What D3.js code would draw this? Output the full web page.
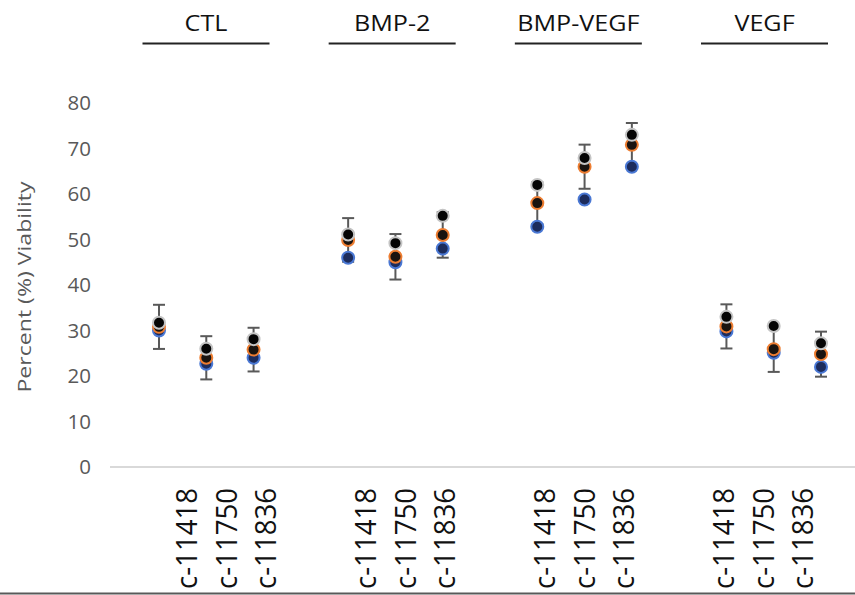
<!DOCTYPE html>
<html>
<head>
<meta charset="utf-8">
<script src="https://cdn.jsdelivr.net/npm/d3@7"></script>
<style>
  html, body { margin: 0; padding: 0; background: #fff; }
  svg { display: block; font-family: "Open Sans", "Noto Sans", sans-serif; }
</style>
</head>
<body>
<div id="chart"></div>
<script>
// treatment groups and cell samples
const groups = ["CTL", "BMP-2", "BMP-VEGF", "VEGF"];
const samples = ["c-11418", "c-11750", "c-11836"];

// values per group x sample (group-major order)
const blueVals   = [30.0, 22.7, 24.0, 46.0, 45.0, 48.0, 52.8, 58.8, 66.0, 29.8, 25.1, 22.0];
const orangeVals = [30.8, 24.0, 25.8, 49.9, 46.2, 51.0, 58.0, 66.0, 70.8, 30.9, 25.9, 24.8];
const blackVals  = [31.7, 26.0, 28.1, 51.1, 49.2, 55.2, 62.0, 67.9, 73.0, 33.0, 31.0, 27.2];
// error bar half-width (drawn around the orange series)
const errVals    = [4.85, 4.75, 4.8, 4.8, 5.0, 5.0, 4.6, 4.85, 4.8, 4.85, 5.0, 4.95];

const yTicks = [0, 10, 20, 30, 40, 50, 60, 70, 80];

const width = 855, height = 595;

const svg = d3.select("#chart")
  .append("svg")
  .attr("width", width)
  .attr("height", height);

// scales
const y = d3.scaleLinear().domain([0, 80]).range([467, 103]);
// each group takes 4 slots (3 samples + a gap)
const xSlot = d3.scaleLinear().domain([0, 14]).range([159, 821]);
const xHeader = d3.scalePoint().domain(groups).range([206, 764.5]);
const xLabelGroup = d3.scalePoint().domain(groups).range([226, 763]);
const xLabelSample = d3.scalePoint().domain(samples).range([-39.5, 39.5]);

// flat rows
const rows = [];
groups.forEach((g, gi) => {
  samples.forEach((s, si) => {
    const i = gi * 3 + si;
    rows.push({
      group: g, sample: s, slot: gi * 4 + si,
      blue: blueVals[i], orange: orangeVals[i], black: blackVals[i], err: errVals[i]
    });
  });
});

// group headers (text a little stretched sideways, like the original)
const head = svg.append("g").attr("class", "headers");
head.selectAll("text")
  .data(groups)
  .enter()
  .append("text")
  .attr("transform", d => `translate(${xHeader(d)},31) scale(1.17,1)`)
  .attr("text-anchor", "middle")
  .attr("font-size", 21.5)
  .attr("fill", "#111")
  .text(d => d);

head.selectAll("line")
  .data(groups)
  .enter()
  .append("line")
  .attr("x1", d => xHeader(d) - 63.5)
  .attr("x2", d => xHeader(d) + 63.5)
  .attr("y1", 43.5)
  .attr("y2", 43.5)
  .attr("stroke", "#222")
  .attr("stroke-width", 2);

// y axis (labels only)
const yAxis = svg.append("g")
  .attr("transform", "translate(110,0)")
  .call(d3.axisLeft(y).tickValues(yTicks).tickSize(0).tickPadding(19));
yAxis.select(".domain").remove();
yAxis.selectAll("text")
  .attr("font-size", 20.5)
  .attr("font-family", "'Open Sans', sans-serif")
  .attr("fill", "#595959");

// y title
svg.append("text")
  .attr("transform", "translate(31,287) rotate(-90)")
  .attr("text-anchor", "middle")
  .attr("font-size", 19)
  .attr("fill", "#595959")
  .attr("textLength", 211)
  .attr("lengthAdjust", "spacingAndGlyphs")
  .text("Percent (%) Viability");

// x axis baseline
svg.append("line")
  .attr("x1", 110).attr("x2", width)
  .attr("y1", y(0)).attr("y2", y(0))
  .attr("stroke", "#d9d9d9")
  .attr("stroke-width", 2);

// bottom frame line
svg.append("line")
  .attr("x1", 0).attr("x2", width)
  .attr("y1", 593.5).attr("y2", 593.5)
  .attr("stroke", "#595959")
  .attr("stroke-width", 2);

// sample labels (rotated)
svg.append("g").selectAll("text")
  .data(rows)
  .enter()
  .append("text")
  .attr("transform", d => `translate(${xLabelGroup(d.group) + xLabelSample(d.sample)},589) rotate(-90)`)
  .attr("dy", "0.36em")
  .attr("font-size", 30)
  .attr("fill", "#111")
  .attr("textLength", 101)
  .attr("lengthAdjust", "spacingAndGlyphs")
  .text(d => d.sample);

// error bars
const eb = svg.append("g").attr("class", "errorbars")
  .attr("stroke", "#595959")
  .attr("stroke-width", 2);
eb.selectAll("line.v")
  .data(rows)
  .enter()
  .append("line")
  .attr("class", "v")
  .attr("x1", d => xSlot(d.slot)).attr("x2", d => xSlot(d.slot))
  .attr("y1", d => y(d.orange + d.err)).attr("y2", d => y(d.orange - d.err));
["top", "bot"].forEach(k => {
  eb.selectAll("line." + k)
    .data(rows)
    .enter()
    .append("line")
    .attr("class", k)
    .attr("x1", d => xSlot(d.slot) - 6).attr("x2", d => xSlot(d.slot) + 6)
    .attr("y1", d => y(k === "top" ? d.orange + d.err : d.orange - d.err))
    .attr("y2", d => y(k === "top" ? d.orange + d.err : d.orange - d.err));
});

// points: blue, then orange, then black on top
const series = [
  { key: "blue", fill: "#1d2c5c", stroke: "#4a78d4" },
  { key: "orange", fill: "#1a1410", stroke: "#ed7d31" },
  { key: "black", fill: "#050505", stroke: "#c4c4c4" }
];
series.forEach(s => {
  svg.append("g").selectAll("circle")
    .data(rows)
    .enter()
    .append("circle")
    .attr("cx", d => xSlot(d.slot))
    .attr("cy", d => y(d[s.key]))
    .attr("r", 6)
    .attr("fill", s.fill)
    .attr("stroke", s.stroke)
    .attr("stroke-width", 2);
});
</script>
</body>
</html>
